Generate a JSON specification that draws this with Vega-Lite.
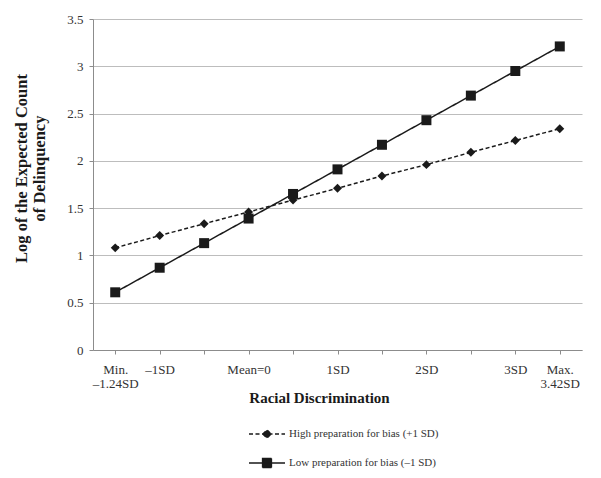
{
  "$schema": "https://vega.github.io/schema/vega-lite/v6.json",
  "autosize": {"type": "none"},
  "width": 489,
  "height": 331,
  "padding": {"left": 93, "top": 19, "right": 19, "bottom": 128},
  "background": "white",
  "config": {
    "view": {"stroke": null},
    "font": "Liberation Serif",
    "axis": {"labelFont": "Liberation Serif", "titleFont": "Liberation Serif"},
    "legend": {"labelFont": "Liberation Serif"}
  },
  "data": {
    "values": [
      {"pos": 0, "series": "High preparation for bias (+1 SD)", "value": 1.08},
      {"pos": 1, "series": "High preparation for bias (+1 SD)", "value": 1.21},
      {"pos": 2, "series": "High preparation for bias (+1 SD)", "value": 1.335},
      {"pos": 3, "series": "High preparation for bias (+1 SD)", "value": 1.46},
      {"pos": 4, "series": "High preparation for bias (+1 SD)", "value": 1.585},
      {"pos": 5, "series": "High preparation for bias (+1 SD)", "value": 1.71},
      {"pos": 6, "series": "High preparation for bias (+1 SD)", "value": 1.84},
      {"pos": 7, "series": "High preparation for bias (+1 SD)", "value": 1.96},
      {"pos": 8, "series": "High preparation for bias (+1 SD)", "value": 2.09},
      {"pos": 9, "series": "High preparation for bias (+1 SD)", "value": 2.215},
      {"pos": 10, "series": "High preparation for bias (+1 SD)", "value": 2.34},
      {"pos": 0, "series": "Low preparation for bias (\u20131 SD)", "value": 0.61},
      {"pos": 1, "series": "Low preparation for bias (\u20131 SD)", "value": 0.87},
      {"pos": 2, "series": "Low preparation for bias (\u20131 SD)", "value": 1.13},
      {"pos": 3, "series": "Low preparation for bias (\u20131 SD)", "value": 1.39},
      {"pos": 4, "series": "Low preparation for bias (\u20131 SD)", "value": 1.65},
      {"pos": 5, "series": "Low preparation for bias (\u20131 SD)", "value": 1.91},
      {"pos": 6, "series": "Low preparation for bias (\u20131 SD)", "value": 2.17},
      {"pos": 7, "series": "Low preparation for bias (\u20131 SD)", "value": 2.43},
      {"pos": 8, "series": "Low preparation for bias (\u20131 SD)", "value": 2.69},
      {"pos": 9, "series": "Low preparation for bias (\u20131 SD)", "value": 2.95},
      {"pos": 10, "series": "Low preparation for bias (\u20131 SD)", "value": 3.21}
    ]
  },
  "encoding": {
    "x": {
      "field": "pos",
      "type": "ordinal",
      "scale": {"type": "point", "padding": 0.5},
      "axis": {
        "title": "Racial Discrimination",
        "titleFontSize": 15,
        "titleFontWeight": "bold",
        "titleColor": "#1a1a1a",
        "titlePadding": 0,
        "titleX": 226,
        "labelAngle": 0,
        "labelFontSize": 13,
        "labelColor": "#333333",
        "labelPadding": 9,
        "labelLineHeight": 14,
        "labelExpr": "datum.value == 0 ? ['Min.', '\u20131.24SD'] : datum.value == 1 ? '\u20131SD' : datum.value == 3 ? 'Mean=0' : datum.value == 5 ? '1SD' : datum.value == 7 ? '2SD' : datum.value == 9 ? '3SD' : datum.value == 10 ? ['Max.', '3.42SD'] : ''",
        "domainColor": "#8c8c8c",
        "tickColor": "#8c8c8c",
        "tickSize": 4,
        "grid": false
      }
    },
    "y": {
      "field": "value",
      "type": "quantitative",
      "scale": {"domain": [0, 3.5], "nice": false},
      "axis": {
        "title": ["Log of the Expected Count", "of Delinquency"],
        "titleFontSize": 16.5,
        "titleFontWeight": "bold",
        "titleColor": "#1a1a1a",
        "titleLineHeight": 18,
        "titlePadding": 19,
        "titleY": 149,
        "values": [0, 0.5, 1, 1.5, 2, 2.5, 3, 3.5],
        "labelExpr": "datum.value",
        "labelFontSize": 13,
        "labelColor": "#333333",
        "labelPadding": 6,
        "domainColor": "#8c8c8c",
        "tickColor": "#8c8c8c",
        "tickSize": 4,
        "grid": true,
        "gridColor": "#bdbdbd",
        "gridWidth": 1
      }
    }
  },
  "layer": [
    {
      "mark": {"type": "line", "color": "#1a1a1a", "strokeWidth": 1.5},
      "encoding": {
        "detail": {"field": "series"},
        "strokeDash": {
          "field": "series",
          "type": "nominal",
          "scale": {"range": [[4, 2.5], [1, 0]]},
          "legend": {
            "title": null,
            "orient": "none",
            "legendX": 167,
            "legendY": 408,
            "direction": "vertical",
            "labelFontSize": 11,
            "labelColor": "#333333",
            "rowPadding": 14,
            "symbolSize": 144,
            "symbolStrokeWidth": 1.3,
            "symbolStrokeColor": "#1a1a1a",
            "symbolFillColor": "#1a1a1a",
            "labelOffset": 15,
            "encode": {
              "symbols": {
                "update": {
                  "shape": {"signal": "datum.value == 'High preparation for bias (+1 SD)' ? 'M-3,0H3M-0.7,0L0,-0.7L0.7,0L0,0.7Z' : 'M-3,0H3M-0.75,-0.75H0.75V0.75H-0.75Z'"},
                  "fill": {"value": "#1a1a1a"},
                  "stroke": {"value": "#1a1a1a"}
                }
              }
            }
          }
        }
      }
    },
    {
      "mark": {"type": "point", "filled": true, "opacity": 1, "color": "#1a1a1a"},
      "encoding": {
        "shape": {
          "field": "series",
          "type": "nominal",
          "scale": {"range": ["diamond", "square"]},
          "legend": null
        },
        "size": {
          "field": "series",
          "type": "nominal",
          "scale": {"range": [80, 100]},
          "legend": null
        }
      }
    }
  ]
}
